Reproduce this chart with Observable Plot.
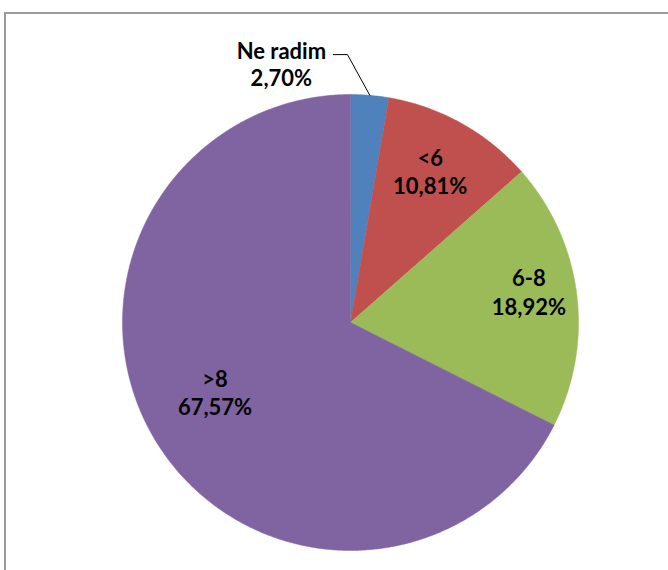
<!DOCTYPE html>
<html>
<head>
<meta charset="utf-8">
<script src="https://cdn.jsdelivr.net/npm/d3@7"></script>
<script src="https://cdn.jsdelivr.net/npm/@observablehq/plot@0.6"></script>
<style>
  html, body { margin: 0; padding: 0; background: #fff; }
  #wrap { position: relative; width: 668px; height: 570px; overflow: hidden; }
  #frame { position: absolute; left: 4px; top: 12px; width: 720px; height: 620px;
           border-left: 2px solid #9b9b9b; border-top: 2px solid #9b9b9b; box-sizing: border-box; }
  #chart { position: absolute; left: 0; top: 0; }
</style>
</head>
<body>
<div id="wrap"><div id="frame"></div><div id="chart"></div></div>
<script>
const categories = ["Ne radim", "<6", "6-8", ">8"];
const values = [2.70, 10.81, 18.92, 67.57];
const valueLabels = ["2,70%", "10,81%", "18,92%", "67,57%"];
const colors = ["#4F81BD", "#C0504D", "#9BBB59", "#8064A2"];

const total = d3.sum(values);
let cum = 0;
const slices = categories.map((c, i) => {
  const a0 = cum / total * 2 * Math.PI;
  cum += values[i];
  const a1 = cum / total * 2 * Math.PI;
  return {category: c, a0, a1, mid: (a0 + a1) / 2, label: valueLabels[i]};
});

// polygon outlines of each slice (unit circle, angle clockwise from 12 o'clock)
const poly = [];
for (const s of slices) {
  poly.push({category: s.category, x: 0, y: 0});
  const n = Math.max(2, Math.ceil((s.a1 - s.a0) / (Math.PI / 360)));
  for (let k = 0; k <= n; k++) {
    const a = s.a0 + (s.a1 - s.a0) * k / n;
    poly.push({category: s.category, x: Math.sin(a), y: Math.cos(a)});
  }
}

// inner label placement (radius fraction + small pixel nudges)
const labelRadius = {"<6": 0.753, "6-8": 0.793, ">8": 0.667};
const nudge = {"<6": [-4, -2], "6-8": [-1, -8], ">8": [-6, -10]};
const inner = slices.filter(s => s.category !== "Ne radim").map(s => ({
  text: s.category + "\n" + s.label,
  x: labelRadius[s.category] * Math.sin(s.mid),
  y: labelRadius[s.category] * Math.cos(s.mid),
  dx: nudge[s.category][0],
  dy: nudge[s.category][1]
}));

const small = slices[0];
const tip = {x: Math.sin(small.mid), y: Math.cos(small.mid)};
const leader = [
  {x: tip.x - 0.16, y: 1.175},
  {x: tip.x - 0.098, y: 1.175},
  {x: tip.x, y: tip.y}
];
const outer = [{text: small.category + "\n" + small.label, x: tip.x - 0.388, y: 1.136}];

const font = {fontSize: 22, fontWeight: "bold", fontFamily: "Lato", fill: "#000"};
const plot = Plot.plot({
  width: 668,
  height: 570,
  marginLeft: 122,
  marginRight: 90,
  marginTop: 94,
  marginBottom: 20,
  x: {domain: [-1, 1], axis: null},
  y: {domain: [-1, 1], axis: null},
  color: {domain: categories, range: colors},
  style: {background: "transparent", overflow: "visible"},
  marks: [
    Plot.line(poly, {x: "x", y: "y", fill: "category", z: "category", stroke: "category", strokeWidth: 0.5, curve: "linear-closed"}),
    Plot.line(leader, {x: "x", y: "y", stroke: "#000", strokeWidth: 1}),
    ...inner.map(d => Plot.text([d], {x: "x", y: "y", text: "text", dx: d.dx, dy: d.dy, lineHeight: 1.28, ...font})),
    Plot.text(outer, {x: "x", y: "y", text: "text", lineHeight: 1.23, ...font})
  ]
});
document.getElementById("chart").appendChild(plot);
</script>
</body>
</html>
